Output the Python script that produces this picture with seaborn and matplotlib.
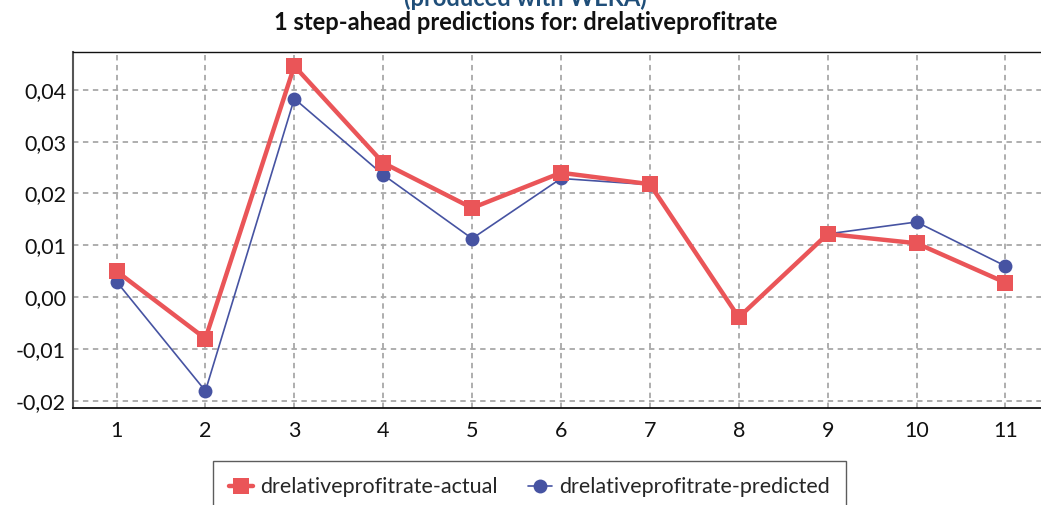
import numpy as np
import pandas as pd
import matplotlib
matplotlib.use('Agg')
import matplotlib.pyplot as plt
import seaborn as sns
from matplotlib.ticker import FuncFormatter, MultipleLocator

# ++++++++++++++++++++++++++++++++++++++++++++ data
steps = [1, 2, 3, 4, 5, 6, 7, 8, 9, 10, 11]
actual = [0.0050, -0.0080, 0.0446, 0.0259, 0.0172, 0.0240, 0.0218, -0.0039, 0.0122, 0.0104, 0.0028]
predicted = [0.0030, -0.0181, 0.0383, 0.0236, 0.0113, 0.0229, 0.0217, -0.0039, 0.0122, 0.0145, 0.0060]
series_labels = ['drelativeprofitrate-actual', 'drelativeprofitrate-predicted']
title_top = '(produced with WEKA)'
title_main = '1 step-ahead predictions for: drelativeprofitrate'

# ++++++++++++++++++++++++++++++++++++++++++++ style
sns.set_style('white')
plt.rcParams['font.family'] = ['Lato', 'DejaVu Sans']

red = '#EA5558'
blue = '#4653A2'

fig = plt.figure(figsize=(10.41, 5.05), dpi=100)
ax = fig.add_axes([0.0701, 0.192, 0.9376, 0.705])

df_act = pd.DataFrame({'step': steps, 'value': actual})
df_pred = pd.DataFrame({'step': steps, 'value': predicted})

sns.lineplot(data=df_pred, x='step', y='value', ax=ax, color=blue, lw=1.2,
             marker='o', markersize=10, markeredgewidth=0, label=series_labels[1], zorder=3)
sns.lineplot(data=df_act, x='step', y='value', ax=ax, color=red, lw=3.2,
             marker='s', markersize=11, markeredgewidth=0, label=series_labels[0], zorder=4)

ax.set_xlim(0.51, 11.49)
ax.set_ylim(-0.0214, 0.0473)
ax.set_xticks(steps)
ax.yaxis.set_major_locator(MultipleLocator(0.01))
ax.yaxis.set_major_formatter(FuncFormatter(lambda v, p: ('%.2f' % v).replace('.', ',').replace('-0,00', '0,00')))
ax.set_xlabel('')
ax.set_ylabel('')

ax.grid(True, color='#a8a8a8', linestyle=(0, (3, 2.5)), linewidth=1.3)
ax.set_axisbelow(True)
ax.tick_params(axis='both', labelsize=15.5, colors='#111111', length=5)
ax.tick_params(axis='x', color='#a8a8a8', width=1.3, direction='out', pad=4)
ax.tick_params(axis='y', length=0, pad=5)
ax.spines['left'].set_color('#555555')
ax.spines['left'].set_linewidth(1.5)
ax.spines['bottom'].set_color('#111111')
ax.spines['bottom'].set_linewidth(1.3)
ax.spines['top'].set_color('#111111')
ax.spines['top'].set_linewidth(1.0)
ax.spines['right'].set_visible(False)

# titles (the first line sits partly above the picture, as in the original)
fig.text(0.505, 1.004, title_top, ha='center', va='center', fontsize=17,
         fontweight='bold', color='#1F4E79')
fig.text(0.505, 0.956, title_main, ha='center', va='center', fontsize=17,
         fontweight='bold', color='#111111')

# legend
ax.get_legend().remove()
handles, labels = ax.get_legend_handles_labels()
order = [1, 0]
leg = fig.legend([handles[i] for i in order], [labels[i] for i in order],
                 loc='upper center', bbox_to_anchor=(0.5087, 0.087), ncol=2,
                 fontsize=15.5, frameon=True, fancybox=False, borderpad=0.75,
                 handlelength=1.1, handletextpad=0.35, columnspacing=1.4,
                 borderaxespad=0)
leg.get_frame().set_edgecolor('#333333')
leg.get_frame().set_linewidth(1.0)

plt.savefig('out.png', dpi=100)
plt.close()
